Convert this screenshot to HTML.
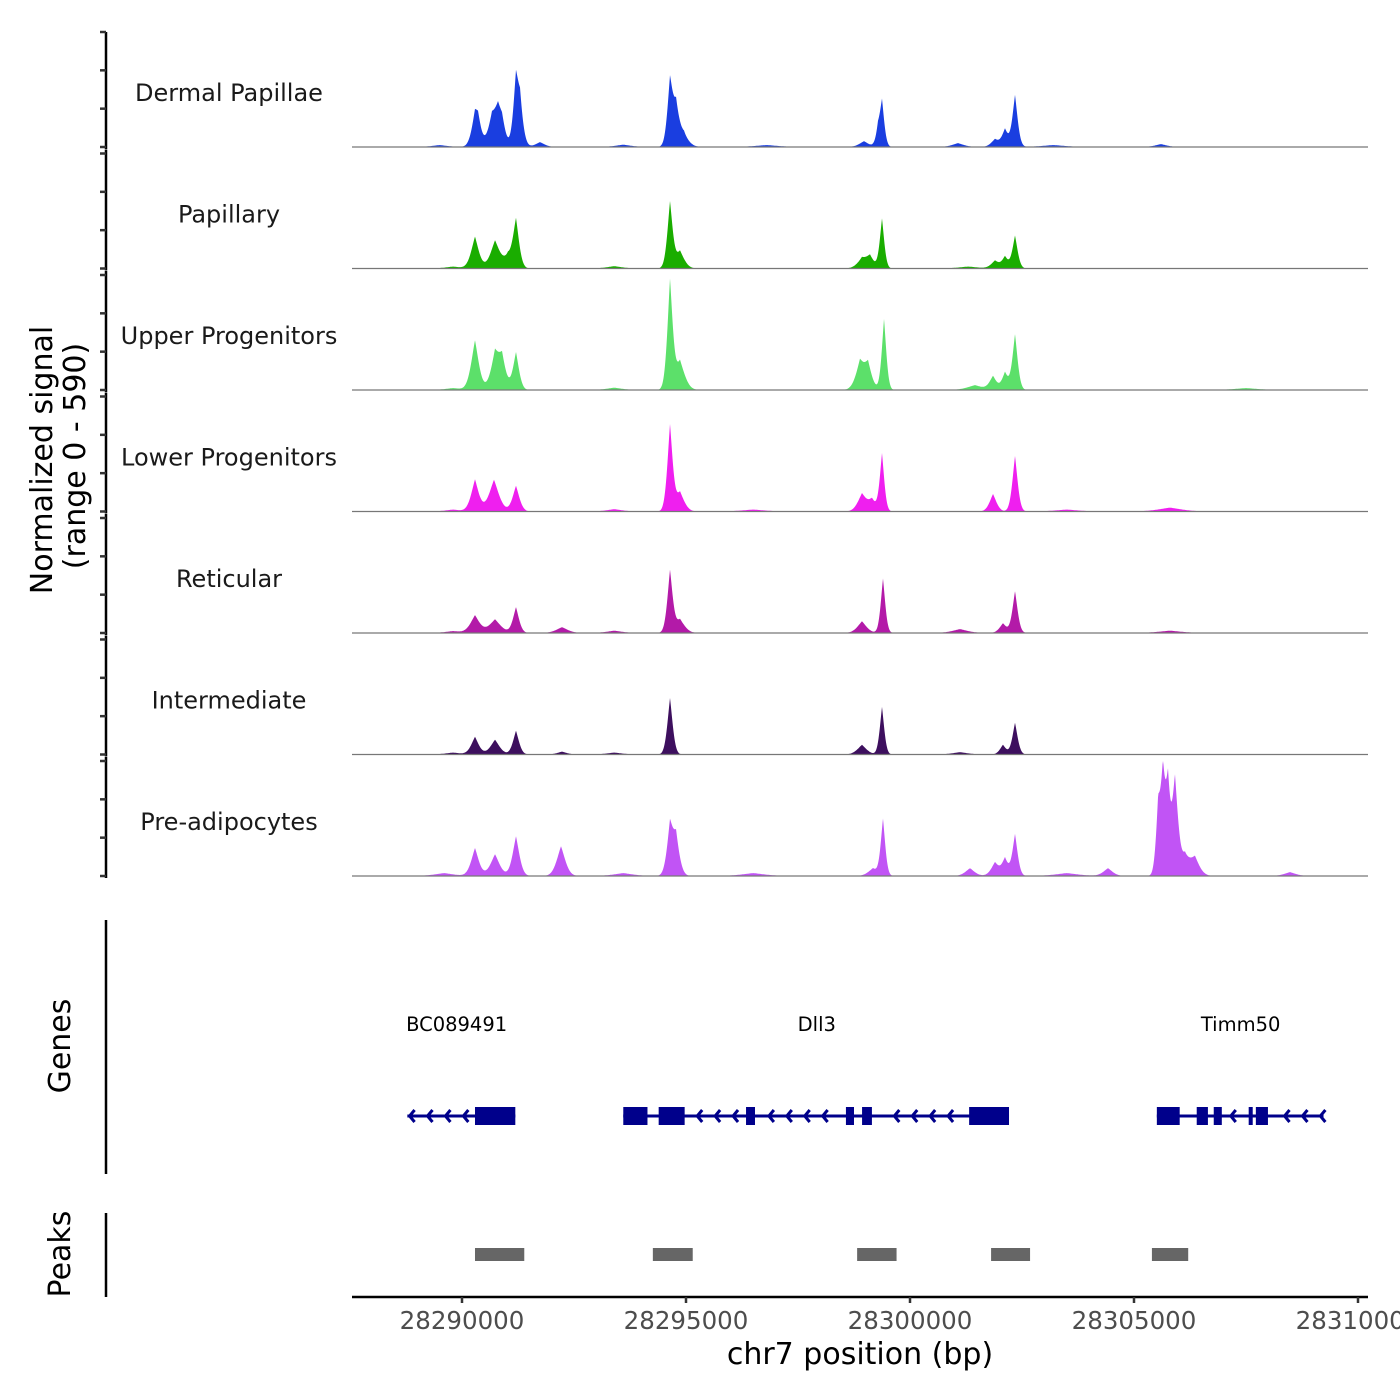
<!DOCTYPE html>
<html><head><meta charset="utf-8"><style>
html,body{margin:0;padding:0;background:#fff}
svg{display:block;font-family:"DejaVu Sans","Liberation Sans",sans-serif}
</style></head><body>
<svg id="c" width="1400" height="1400" viewBox="0 0 1400 1400" xmlns="http://www.w3.org/2000/svg"></svg>
<script>
// ---- data ----
const trackNames = ["Dermal Papillae","Papillary","Upper Progenitors","Lower Progenitors","Reticular","Intermediate","Pre-adipocytes"];
const trackColors = ["#1a3ee0","#1aad00","#5ce06a","#ef1fef","#b31aa8","#3d0f5e","#c154f5"];
const yMax = 590;
const xTicks = [28290000,28295000,28300000,28305000,28310000];
const xTickLabels = ["28290000","28295000","28300000","28305000","28310000"];
// peak centers (bp), heights (signal), widths (bp)
const dpCenters = [28290290,28290357,28290670,28290804,28290893,28291205,28291295,28291741,28294643,28294777,28294955,28298973,28299286,28299375,28301071,28301897,28302120,28302344,28305600,28289500,28293600,28296800,28303200];
const dpHeights = [140,100,125,160,75,315,200,25,315,200,60,30,75,229,20,40,90,265,15,10,12,10,10];
const dpWidths  = [90,80,110,110,80,70,80,120,70,90,120,120,60,60,150,100,80,70,150,200,200,300,300];
const paCenters = [28290290,28290737,28291027,28291205,28294643,28294866,28298928,28299107,28299375,28301897,28302120,28302344,28289800,28293400,28301300];
const paHeights = [163,142,60,245,336,90,50,60,255,40,60,168,10,12,10];
const paWidths  = [100,120,120,80,70,110,120,100,60,100,80,70,200,200,250];
const upCenters = [28290290,28290737,28290893,28291205,28294643,28294866,28298884,28299062,28299420,28301450,28301853,28302120,28302344,28307500,28289800,28293400];
const upHeights = [255,178,150,193,550,150,140,125,365,25,70,90,285,10,10,12];
const upWidths  = [100,110,100,80,70,120,110,100,60,200,90,80,70,300,200,200];
const lpCenters = [28290290,28290714,28291205,28294643,28294866,28298928,28299151,28299375,28301853,28302344,28305803,28289800,28293400,28296500,28303500];
const lpHeights = [163,163,132,438,100,90,60,295,90,285,20,10,12,10,10];
const lpWidths  = [100,130,90,70,110,110,100,60,90,70,300,200,200,300,300];
const reCenters = [28290290,28290737,28291205,28292232,28294643,28294866,28298928,28299397,28301116,28302075,28302344,28305803,28289800,28293400];
const reHeights = [90,70,132,30,315,70,60,280,20,50,214,12,10,12];
const reWidths  = [120,150,80,150,70,120,120,60,200,90,70,300,200,200];
const inCenters = [28290290,28290737,28291205,28292232,28294643,28298928,28299375,28301116,28302075,28302344,28289800,28293400];
const inHeights = [90,76,122,15,290,50,244,12,50,163,10,10];
const inWidths  = [100,120,80,120,70,120,60,200,80,70,200,200];
const prCenters = [28290290,28290737,28291205,28292210,28294643,28294777,28299173,28299397,28301339,28301897,28302120,28302344,28304419,28305540,28305646,28305758,28305914,28306137,28306360,28308481,28289600,28293600,28296500,28303500];
const prHeights = [143,112,204,153,244,193,40,290,40,70,90,214,40,300,494,380,494,100,90,20,15,15,15,15];
const prWidths  = [100,120,90,110,80,90,120,60,120,100,80,70,120,60,70,60,80,120,120,150,250,250,300,300];
const genes = [
  {name:"BC089491", start:28288780, end:28291190, labelX:28289880,
   exons:[[28290290,28291190]]},
  {name:"Dll3", start:28293600, end:28302210, labelX:28297920,
   exons:[[28293600,28294140],[28294390,28294970],[28296340,28296540],[28298570,28298750],[28298930,28299150],[28301320,28302210]]},
  {name:"Timm50", start:28305510, end:28309230, labelX:28307380,
   exons:[[28305510,28306020],[28306400,28306650],[28306780,28306960],[28307560,28307650],[28307720,28307990]]}
];
const peakStarts = [28290290,28294260,28298820,28301810,28305400];
const peakEnds   = [28291390,28295150,28299700,28302680,28306210];
const trackCenters = [dpCenters,paCenters,upCenters,lpCenters,reCenters,inCenters,prCenters];
const trackHeights = [dpHeights,paHeights,upHeights,lpHeights,reHeights,inHeights,prHeights];
const trackWidths  = [dpWidths,paWidths,upWidths,lpWidths,reWidths,inWidths,prWidths];

// ---- scales ----
const X0=352, X1=1368, BP0=28290000, PX0=462, PXPER=224/5000;
const xs = bp => PX0 + (bp-BP0)*PXPER;
const trackTop = i => 32 + i*121.5;
const trackH = 115;
const ys = (i,v) => trackTop(i)+trackH - Math.min(v,yMax)/yMax*trackH;

const svg=document.getElementById('c');
const NS="http://www.w3.org/2000/svg";
function mk(tag,attrs,parent){const e=document.createElementNS(NS,tag);for(const k in attrs)e.setAttribute(k,attrs[k]);(parent||svg).appendChild(e);return e;}
function txt(s,attrs,parent){const e=mk('text',attrs,parent);e.textContent=s;return e;}

const yt=txt("Normalized signal",{x:0,y:0,'font-size':30,'text-anchor':'middle',fill:'#000',transform:'translate(52,460) rotate(-90)'});


const yt2=txt("(range 0 - 590)",{x:0,y:0,'font-size':30,'text-anchor':'middle',fill:'#000',transform:'translate(85,456) rotate(-90)'});



for(let i=0;i<trackNames.length;i++){
  const g=mk('g',{});
  
  
  const top=trackTop(i), base=top+trackH;
  mk('line',{x1:106,x2:106,y1:top-(i==0?0:4),y2:base+2,stroke:'#000','stroke-width':2.5},g);
  for(let k=0;k<4;k++){const yy=top+k*trackH/3; mk('line',{x1:100,x2:106,y1:yy,y2:yy,stroke:'#333','stroke-width':2.5},g);}
  const lab=txt(trackNames[i],{x:229,y:base-46,'font-size':24,'text-anchor':'middle',fill:'#1a1a1a'},g);
  
  
  const C=trackCenters[i],H=trackHeights[i],W=trackWidths[i];
  let d='M'+xs(28288700)+','+base;
  for(let px=Math.round(xs(28288700));px<=Math.round(xs(28309250));px+=0.5){
    const bp=BP0+(px-PX0)/PXPER;
    let v=0;
    for(let j=0;j<C.length;j++){const z=(bp-C[j])/(W[j]*1.25);v+=H[j]*Math.exp(-Math.abs(z)*0.6-z*z*0.45);}
    d+=' L'+px+','+ys(i,v).toFixed(1);
  }
  d+=' L'+xs(28309250)+','+base+' Z';
  const a=mk('path',{d:d,fill:trackColors[i],stroke:'none'},g);
  
  
  mk('line',{x1:X0,x2:X1,y1:base,y2:base,stroke:'#777','stroke-width':1.2},g);
}

const gg=mk('g',{});


mk('line',{x1:106,x2:106,y1:920,y2:1174,stroke:'#000','stroke-width':2.5},gg);
const gt=txt("Genes",{x:0,y:0,'font-size':30,'text-anchor':'middle',fill:'#000',transform:'translate(70,1046) rotate(-90)'},gg);


for(const gn of genes){
  const y=1116;
  const l=mk('line',{x1:xs(gn.start),x2:xs(gn.end),y1:y,y2:y,stroke:'#00008b','stroke-width':3},gg);
  
  
  for(const ex of gn.exons){
    const r=mk('rect',{x:xs(ex[0]),y:y-9,width:Math.max(3,xs(ex[1])-xs(ex[0])),height:18,fill:'#00008b'},gg);
    
    
  }
  for(let bp=gn.start+50;bp<gn.end;bp+=400){
    const inEx=gn.exons.some(e=>bp>e[0]-150&&bp<e[1]+150);if(inEx)continue;
    const x=xs(bp);
    mk('polyline',{points:(x+5)+','+(y-6)+' '+x+','+y+' '+(x+5)+','+(y+6),fill:'none',stroke:'#00008b','stroke-width':3},gg);
  }
  const t=txt(gn.name,{x:xs(gn.labelX),y:1031,'font-size':19.5,'text-anchor':'middle',fill:'#000'},gg);
  
  
}

const pg=mk('g',{});


mk('line',{x1:106,x2:106,y1:1213,y2:1297,stroke:'#000','stroke-width':2.5},pg);
const pt=txt("Peaks",{x:0,y:0,'font-size':30,'text-anchor':'middle',fill:'#000',transform:'translate(70,1254) rotate(-90)'},pg);


for(let j=0;j<peakStarts.length;j++){
  const r=mk('rect',{x:xs(peakStarts[j]),y:1248,width:xs(peakEnds[j])-xs(peakStarts[j]),height:13,fill:'#666'},pg);
  
  
}

const xg=mk('g',{});


mk('line',{x1:X0,x2:X1,y1:1297,y2:1297,stroke:'#000','stroke-width':2.5},xg);
for(let j=0;j<xTicks.length;j++){
  const x=xs(xTicks[j]);
  mk('line',{x1:x,x2:x,y1:1297,y2:1303,stroke:'#333','stroke-width':2.5},xg);
  const t=txt(xTickLabels[j],{x:x,y:1329,'font-size':24.5,'text-anchor':'middle',fill:'#4d4d4d'},xg);
  
  
}
const xt=txt("chr7 position (bp)",{x:860,y:1364,'font-size':30,'text-anchor':'middle',fill:'#000'},xg);


</script>
</body></html>
